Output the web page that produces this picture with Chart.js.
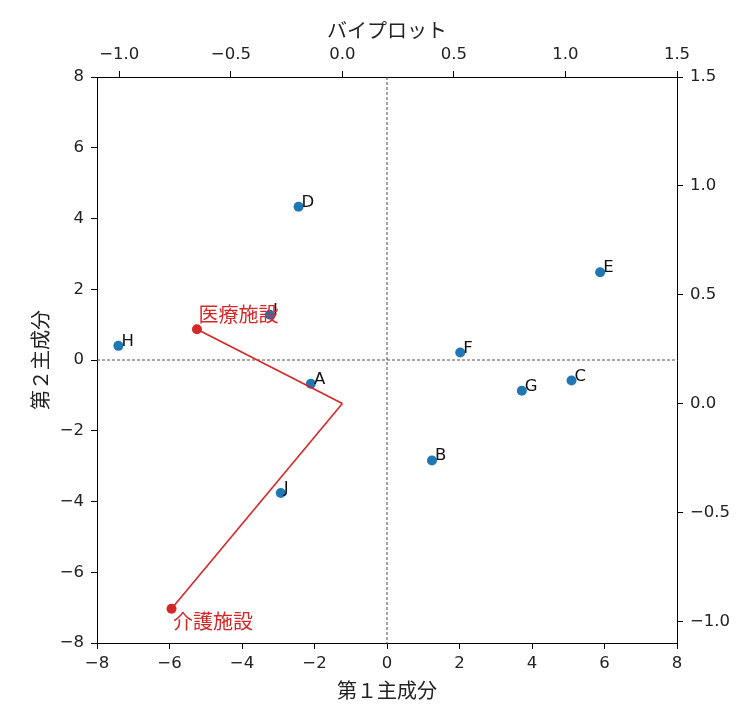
<!DOCTYPE html>
<html>
<head>
<meta charset="utf-8">
<style>
  html, body { margin: 0; padding: 0; background: #fff; }
  #wrap { width: 752px; height: 720px; }
</style>
<script src="https://cdn.jsdelivr.net/npm/chart.js@4.4.1/dist/chart.umd.min.js"></script>
</head>
<body>
<div id="wrap"><canvas id="biplot" width="752" height="720"></canvas></div>
<script>
// principal component scores
const sampleNames = ["A", "B", "C", "D", "E", "F", "G", "H", "I", "J"];
const pc1Scores = [-2.10, 1.24, 5.09, -2.44, 5.88, 2.02, 3.72, -7.41, -3.23, -2.93];
const pc2Scores = [-0.67, -2.84, -0.58, 4.33, 2.48, 0.21, -0.87, 0.40, 1.28, -3.76];

// loading vectors (top / right axes)
const loadingNames = ["医療施設", "介護施設"];
const loadingX = [-0.652, -0.766];
const loadingY = [0.341, -0.943];

const scoreTicks = [-8, -6, -4, -2, 0, 2, 4, 6, 8];
const loadingTicks = [-1.0, -0.5, 0.0, 0.5, 1.0, 1.5];

const BLUE = "#1f77b4";
const RED = "#d62728";
const TEXT = "#222";
const TICK_FONT = { family: "DejaVu Sans", size: 16.5 };
const JP_FONT = "'Noto Sans CJK JP'";

function minus(str) {
    return String(str).replace("-", "\u2212");
}

function fixedTicks(values) {
    return (scale) => { scale.ticks = values.map((v) => ({ value: v })); };
}

function axisBase(extra) {
    return {
        type: "linear",
        grid: {
            display: true,
            drawOnChartArea: false,
            drawTicks: true,
            tickLength: 6,
            color: "#000",
            tickColor: "#000",
            lineWidth: 1
        },
        border: { display: true, color: "#000", width: 1 },
        ...extra
    };
}

const labelPlugin = {
    id: "biplotLabels",
    beforeDatasetsDraw(chart) {
        const { ctx, chartArea, scales } = chart;
        const x0 = scales.x.getPixelForValue(0);
        const y0 = scales.y.getPixelForValue(0);
        ctx.save();
        ctx.strokeStyle = "#222";
        ctx.lineWidth = 0.8;
        ctx.setLineDash([3, 2]);
        ctx.beginPath();
        ctx.moveTo(x0, chartArea.top);
        ctx.lineTo(x0, chartArea.bottom);
        ctx.moveTo(chartArea.left, y0);
        ctx.lineTo(chartArea.right, y0);
        ctx.stroke();
        ctx.restore();
    },
    afterDatasetsDraw(chart) {
        const { ctx, scales } = chart;
        ctx.save();
        ctx.fillStyle = "#111";
        ctx.font = "16.5px 'DejaVu Sans'";
        ctx.textAlign = "left";
        ctx.textBaseline = "alphabetic";
        sampleNames.forEach((name, i) => {
            const px = scales.x.getPixelForValue(pc1Scores[i]);
            const py = scales.y.getPixelForValue(pc2Scores[i]);
            ctx.fillText(name, px + 3, py);
        });

        ctx.fillStyle = RED;
        ctx.font = "20px " + JP_FONT;
        ctx.textBaseline = "middle";
        loadingNames.forEach((name, i) => {
            const px = scales.x2.getPixelForValue(loadingX[i]);
            const py = scales.y2.getPixelForValue(loadingY[i]);
            const dy = loadingY[i] >= 0 ? -14.5 : 13;
            ctx.fillText(name, px + 1.5, py + dy);
        });
        ctx.restore();
    }
};

const vectorSets = loadingNames.map((name, i) => ({
    type: "line",
    label: name,
    data: [{ x: 0, y: 0 }, { x: loadingX[i], y: loadingY[i] }],
    xAxisID: "x2",
    yAxisID: "y2",
    borderColor: RED,
    borderWidth: 1.6,
    pointRadius: [0, 5],
    pointBackgroundColor: RED,
    pointBorderWidth: 0,
    fill: false,
    tension: 0
}));

const scoreSet = {
    type: "scatter",
    label: "scores",
    data: pc1Scores.map((x, i) => ({ x, y: pc2Scores[i] })),
    xAxisID: "x",
    yAxisID: "y",
    pointRadius: 5,
    pointBackgroundColor: BLUE,
    pointBorderWidth: 0
};

new Chart(document.getElementById("biplot"), {
    type: "scatter",
    data: { datasets: [...vectorSets, scoreSet] },
    options: {
        responsive: false,
        animation: false,
        layout: { padding: 0 },
        plugins: {
            legend: { display: false },
            tooltip: { enabled: false },
            title: { display: false }
        },
        scales: {
            x: axisBase({
                position: "bottom",
                min: -8,
                max: 8,
                afterBuildTicks: fixedTicks(scoreTicks),
                afterFit: (s) => { s.height = 77; },
                ticks: {
                    autoSkip: false, maxRotation: 0, padding: 5, color: TEXT, font: TICK_FONT,
                    callback: (v) => minus(v)
                },
                title: {
                    display: true, text: "第１主成分", color: TEXT,
                    font: { family: JP_FONT, size: 20 }, padding: { top: 0, bottom: 18 }
                }
            }),
            y: axisBase({
                position: "left",
                min: -8,
                max: 8,
                afterBuildTicks: fixedTicks(scoreTicks),
                afterFit: (s) => { s.width = 97; },
                ticks: {
                    autoSkip: false, padding: 7, color: TEXT, font: TICK_FONT,
                    callback: (v) => minus(v)
                },
                title: {
                    display: true, text: "第２主成分", color: TEXT,
                    font: { family: JP_FONT, size: 20 }, padding: { top: 28, bottom: 0 }
                }
            }),
            x2: axisBase({
                position: "top",
                axis: "x",
                min: -1.1,
                max: 1.5,
                afterBuildTicks: fixedTicks(loadingTicks),
                afterFit: (s) => { s.height = 77; },
                ticks: {
                    autoSkip: false, maxRotation: 0, padding: 6, color: TEXT, font: TICK_FONT,
                    callback: (v) => minus(Number(v).toFixed(1))
                },
                title: {
                    display: true, text: "バイプロット", color: TEXT,
                    font: { family: JP_FONT, size: 20 }, padding: { top: 18, bottom: 0 }
                }
            }),
            y2: axisBase({
                position: "right",
                axis: "y",
                min: -1.1,
                max: 1.5,
                afterBuildTicks: fixedTicks(loadingTicks),
                afterFit: (s) => { s.width = 75; },
                ticks: {
                    autoSkip: false, padding: 7, color: TEXT, font: TICK_FONT,
                    callback: (v) => minus(Number(v).toFixed(1))
                }
            })
        }
    },
    plugins: [labelPlugin]
});
</script>
</body>
</html>
